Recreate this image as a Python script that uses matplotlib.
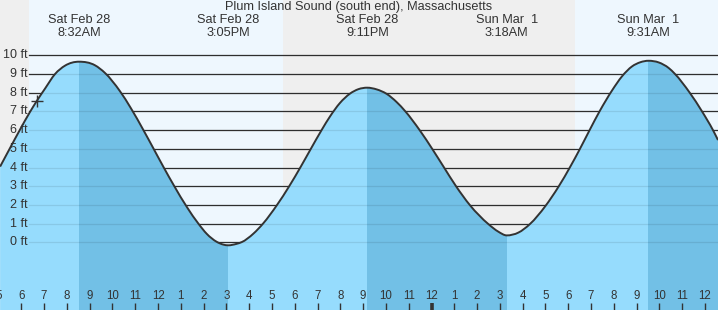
import matplotlib
matplotlib.use('Agg')
import matplotlib.pyplot as plt
import matplotlib.transforms as mtransforms
from matplotlib.path import Path
from matplotlib.patches import PathPatch
import numpy as np

plt.rcParams['font.family'] = ['Liberation Sans', 'DejaVu Sans']

# tide curve (hours from Sat Feb 28 00:00, feet)
curve_t = [5.07, 5.50, 5.94, 6.38, 6.70, 7.04, 7.48, 7.92, 8.53,
           9.23, 9.67, 10.33, 10.81, 11.35, 11.82, 12.26, 12.70, 13.28, 13.77, 14.14, 14.57, 14.86, 15.08,
           15.45, 15.67, 16.18, 16.62, 17.21, 17.76, 18.26, 18.70, 19.18, 19.55, 19.98, 20.42, 20.79, 21.18,
           21.59, 22.03, 22.47, 22.84, 23.49, 24.05, 24.55, 25.07, 25.69, 26.49, 26.93, 27.30,
           27.81, 28.32, 28.99, 29.58, 30.09, 30.50, 30.94, 31.38, 31.92, 32.36, 32.80, 33.16, 33.52,
           33.97, 34.41, 34.67, 35.33, 35.87, 36.35, 36.57]
curve_ft = [4.05, 5.03, 6.02, 6.97, 7.60, 8.22, 9.00, 9.45, 9.66,
            9.47, 9.06, 8.08, 7.17, 6.02, 4.97, 3.98, 3.03, 1.86, 1.00, 0.45, 0.03, -0.12, -0.16,
            -0.08, 0.01, 0.46, 1.02, 1.98, 3.01, 4.04, 4.99, 6.01, 6.74, 7.45, 7.95, 8.19, 8.27,
            8.18, 7.94, 7.50, 7.02, 5.98, 4.96, 4.00, 3.01, 1.98, 0.98, 0.57, 0.37,
            0.52, 0.98, 1.93, 2.99, 4.05, 4.97, 6.01, 7.02, 8.12, 8.88, 9.41, 9.63, 9.71,
            9.62, 9.32, 9.02, 8.00, 7.00, 6.00, 5.47]

# high / low tides
tide_times = [8.53, 15.08, 21.18, 27.30, 33.52]
tide_days = ['Sat Feb 28', 'Sat Feb 28', 'Sat Feb 28', 'Sun Mar  1', 'Sun Mar  1']
tide_clock = ['8:32AM', '3:05PM', '9:11PM', '3:18AM', '9:31AM']
high_times = [8.53, 21.18, 33.52]
low_times = [15.08, 27.30]

# sunrise / sunset
sunrise = [6.34, 30.30]
sunset = [17.49]

# current time marker
now_t = 6.70
now_ft = 7.57

ft_levels = list(range(0, 11))
title = 'Plum Island Sound (south end), Massachusetts'

x_start, x_end = 5.065, 36.57
y_bot, y_top = -3.62, 12.96

night_col = '#efefef'
day_col = '#eef7fe'
water_col = '#96dcfd'
fall_col = '#72c0e6'
ink = '#333333'


def smooth_verts(t, y, flat):
    # cubic bezier through the read points, slopes from neighbours (0 at high/low)
    n = len(t)
    m = np.zeros(n)
    for i in range(n):
        if any(abs(t[i] - f) < 1e-6 for f in flat):
            m[i] = 0
        elif i == 0:
            m[i] = (y[1] - y[0]) / (t[1] - t[0])
        elif i == n - 1:
            m[i] = (y[-1] - y[-2]) / (t[-1] - t[-2])
        else:
            h0 = t[i] - t[i - 1]
            h1 = t[i + 1] - t[i]
            s0 = (y[i] - y[i - 1]) / h0
            s1 = (y[i + 1] - y[i]) / h1
            m[i] = (s0 * h1 + s1 * h0) / (h0 + h1)
    verts = [(t[0], y[0])]
    codes = [Path.MOVETO]
    for i in range(n - 1):
        d = (t[i + 1] - t[i]) / 3
        verts += [(t[i] + d, y[i] + m[i] * d), (t[i + 1] - d, y[i + 1] - m[i + 1] * d), (t[i + 1], y[i + 1])]
        codes += [Path.CURVE4] * 3
    return verts, codes


fig = plt.figure(figsize=(7.18, 3.10), dpi=100)
ax = fig.add_axes([0, 0, 1, 1])
ax.set_xlim(x_start, x_end)
ax.set_ylim(y_bot, y_top)
ax.axis('off')

# night / day background
ax.axvspan(x_start, x_end, color=night_col, zorder=0)
ax.axvspan(sunrise[0], sunset[0], color=day_col, zorder=0.5, lw=0)
ax.axvspan(sunrise[1], x_end, color=day_col, zorder=0.5, lw=0)

grid_x0 = 29 / 718
ytrans = mtransforms.blended_transform_factory(ax.transAxes, ax.transData)
for lv in ft_levels:
    ax.axhline(lv, xmin=grid_x0, xmax=1, color=ink, lw=0.9, zorder=1)
    ax.axhline(lv, xmin=grid_x0, xmax=1, color='black', alpha=0.09, lw=0.9, zorder=3)
    ax.text(27.5 / 718, lv, f'{lv} ft', transform=ytrans,
            ha='right', va='center', fontsize=9, color=ink, zorder=2.5)

verts, codes = smooth_verts(curve_t, curve_ft, tide_times)
fill_verts = verts + [(curve_t[-1], y_bot), (curve_t[0], y_bot), (curve_t[0], y_bot)]
fill_codes = codes + [Path.LINETO, Path.LINETO, Path.CLOSEPOLY]
water = PathPatch(Path(fill_verts, fill_codes), facecolor=water_col, lw=0, zorder=2)
ax.add_patch(water)
ends = low_times + [x_end]
for hi, lo in zip(high_times, ends):
    span = ax.axvspan(hi, lo, color=fall_col, lw=0, zorder=2.2)
    span.set_clip_path(water)
ax.add_patch(PathPatch(Path(verts, codes), fill=False, edgecolor=ink, lw=1.4, zorder=4))

ax.plot([now_t], [now_ft], marker='+', ms=8, mew=1, color=ink, zorder=6)

# top labels
top = mtransforms.blended_transform_factory(ax.transData, ax.transAxes)
for tt, d, c in zip(tide_times, tide_days, tide_clock):
    ax.text(tt, 1 - 20 / 310, d, transform=top, ha='center', va='center', fontsize=9.2, color=ink)
    ax.text(tt, 1 - 32.5 / 310, c, transform=top, ha='center', va='center', fontsize=9.2, color=ink)
ax.text(0.5, 1 - 7 / 310, title, transform=ax.transAxes, ha='center', va='center', fontsize=9.2, color=ink)

# hour ticks
for hr in range(5, 37):
    lab = str((hr - 1) % 12 + 1)
    ax.text(hr, 14 / 310, lab, transform=top, ha='center', va='center', fontsize=8.3, color=ink, clip_on=False)
    w = 2.6 if hr % 24 == 0 else 1.0
    ax.plot([hr, hr], [0, 7.5 / 310], transform=top, color=ink, lw=w, solid_capstyle='butt', zorder=6)

fig.savefig('out.png', dpi=100)
